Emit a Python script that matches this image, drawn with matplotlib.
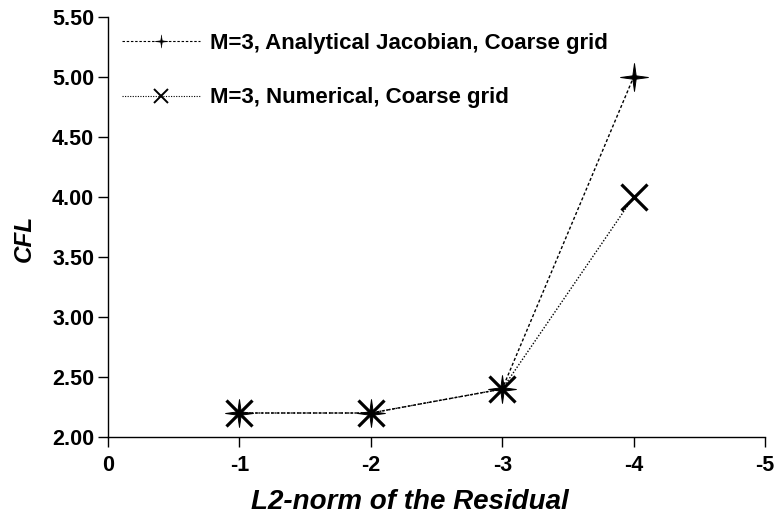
import matplotlib
matplotlib.use("Agg")
import matplotlib.pyplot as plt
from matplotlib.path import Path
from matplotlib.lines import Line2D
import numpy as np

plt.rcParams['font.family'] = ['Liberation Sans', 'DejaVu Sans']

residual = [-1, -2, -3, -4]
cfl_analytical = [2.2, 2.2, 2.4, 5.0]
cfl_numerical = [2.2, 2.2, 2.4, 4.0]
xticks = [0, -1, -2, -3, -4, -5]
yticks = [2.0, 2.5, 3.0, 3.5, 4.0, 4.5, 5.0, 5.5]
label_a = "M=3, Analytical Jacobian, Coarse grid"
label_n = "M=3, Numerical, Coarse grid"

# thin 4-pointed star marker
r_in = 0.17
verts = []
for k in range(8):
    ang = np.pi / 2 + k * np.pi / 4
    r = 1.0 if k % 2 == 0 else r_in
    verts.append((r * np.cos(ang), r * np.sin(ang)))
verts.append(verts[0])
codes = [Path.MOVETO] + [Path.LINETO] * 7 + [Path.CLOSEPOLY]
star4 = Path(verts, codes)

W, H = 779, 520
fig = plt.figure(figsize=(W / 100, H / 100), dpi=100)
ax = fig.add_axes([108 / W, 1 - 437 / H, 657 / W, 420 / H])

dash_a = (0, (2.2, 1.6))
dash_n = (0, (1.0, 1.3))
ax.plot(residual, cfl_analytical, color='black', linestyle=dash_a, linewidth=1.0,
        marker=star4, markersize=20, markerfacecolor='black', markeredgecolor='black',
        markeredgewidth=0.7)
ax.plot(residual, cfl_numerical, color='black', linestyle=dash_n, linewidth=1.0,
        marker='x', markersize=19, markeredgewidth=2.3)

ax.set_xlim(0, -5)
ax.set_ylim(2.0, 5.5)
ax.set_xticks(xticks)
ax.set_xticklabels([str(v) for v in xticks])
ax.set_yticks(yticks)
ax.set_yticklabels([f"{v:.2f}" for v in yticks])
for s in ['top', 'right']:
    ax.spines[s].set_visible(False)
for s in ['left', 'bottom']:
    ax.spines[s].set_linewidth(1.0)
ax.tick_params(direction='out', length=7, width=1.0, labelsize=15.5)
ax.tick_params(axis='x', pad=6)
ax.tick_params(axis='y', pad=3)
for lab in ax.get_xticklabels() + ax.get_yticklabels():
    lab.set_fontweight('bold')

ax.set_xlabel("L2-norm of the Residual", fontsize=20, fontweight='bold', fontstyle='italic')
ax.set_ylabel("CFL", fontsize=17.5, fontweight='bold', fontstyle='italic')
ax.xaxis.set_label_coords((410 - 108) / 657, (437 - 489) / 420)
ax.yaxis.set_label_coords((36 - 108) / 657, (437 - 238) / 420)

h1 = Line2D([], [], color='black', linestyle=dash_a, linewidth=0.8,
            marker=star4, markersize=9.5, markerfacecolor='black', markeredgewidth=0.3)
h2 = Line2D([], [], color='black', linestyle=dash_n, linewidth=0.8,
            marker='x', markersize=9.5, markeredgewidth=1.4)
leg = fig.legend([h1, h2], [label_a, label_n], loc='upper left',
                 bbox_to_anchor=(122 / W, 1 - 33 / H),
                 frameon=False, prop={'weight': 'bold', 'size': 16}, handlelength=3.5,
                 labelspacing=1.5, handletextpad=0.45, borderpad=0, borderaxespad=0)

fig.savefig("out.png", dpi=100)
